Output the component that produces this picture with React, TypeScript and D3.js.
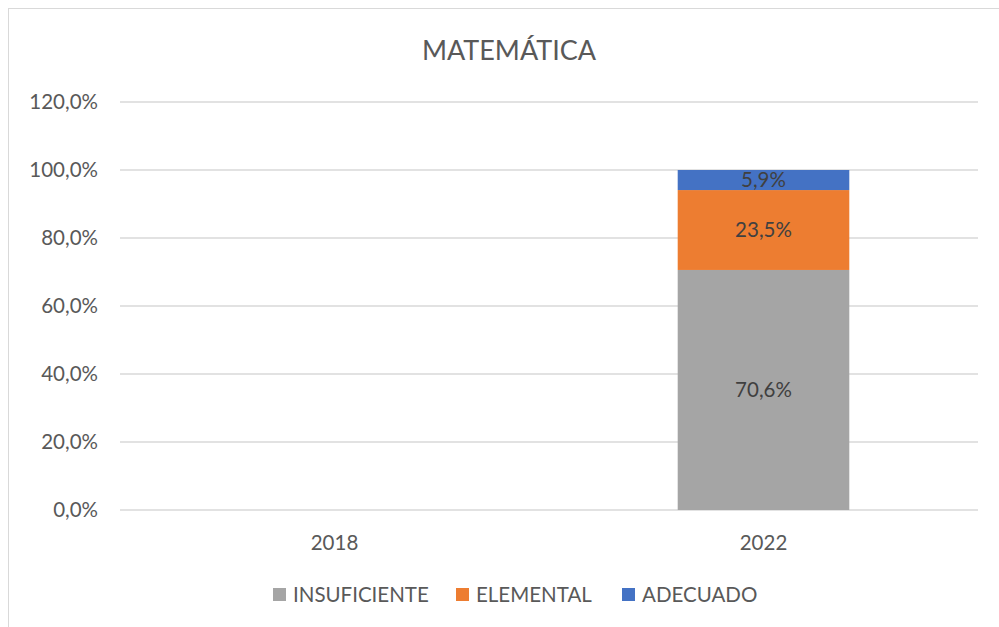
import React from "react";
import * as d3 from "d3";

const categories = ["2018", "2022"];
const seriesNames = ["INSUFICIENTE", "ELEMENTAL", "ADECUADO"];
const seriesColors = ["#A5A5A5", "#ED7D31", "#4472C4"];
// values in percent, per category (null = no data)
const insuficiente = [null, 70.6];
const elemental = [null, 23.5];
const adecuado = [null, 5.9];
const yTicks = [0, 20, 40, 60, 80, 100, 120];
const title = "MATEMÁTICA";

const W = 999;
const H = 627;
const FONT = "Lato, 'Open Sans', sans-serif";
const FS = 20.5;

export default function App() {
  const plot = { left: 120, right: 978, top: 102, bottom: 510 };
  const x = d3.scaleBand<string>().domain(categories).range([plot.left, plot.right]).paddingInner(0.6).paddingOuter(0.3);
  const y = d3.scaleLinear().domain([0, 120]).range([plot.bottom, plot.top]);
  const series = [insuficiente, elemental, adecuado];
  const fmt = (v: number) => v.toFixed(1).replace(".", ",") + "%";

  const bars: any[] = [];
  categories.forEach((c, ci) => {
    let acc = 0;
    series.forEach((s, si) => {
      const v = s[ci];
      if (v == null) return;
      const y0 = y(acc);
      const y1 = y(acc + v);
      acc += v;
      bars.push({ key: c + si, x: x(c)!, w: x.bandwidth(), y0, y1, color: seriesColors[si], label: fmt(v) });
    });
  });

  const legendItems = [
    { name: seriesNames[0], x: 273 },
    { name: seriesNames[1], x: 456 },
    { name: seriesNames[2], x: 622 },
  ];

  return (
    <svg width={W} height={H} style={{ position: "absolute", left: 0, top: 0 }}>
      <rect x={0} y={0} width={W} height={H} fill="#fff" />
      <rect x={8.5} y={8.5} width={W + 10} height={H + 10} fill="#fff" stroke="#D9D9D9" strokeWidth={1} />
      <text x={509} y={60} textAnchor="middle" fontFamily={FONT} fontSize={27} fill="#595959">{title}</text>
      {yTicks.map((t) => (
        <g key={t}>
          <line x1={plot.left} x2={plot.right} y1={y(t)} y2={y(t)} stroke="#D9D9D9" strokeWidth={1.5} />
          <text x={98} y={y(t)} dy="0.35em" textAnchor="end" fontFamily={FONT} fontSize={FS} fill="#595959">{fmt(t)}</text>
        </g>
      ))}
      {bars.map((b) => (
        <g key={b.key}>
          <rect x={b.x} y={b.y1} width={b.w} height={b.y0 - b.y1} fill={b.color} />
          <text x={b.x + b.w / 2} y={(b.y0 + b.y1) / 2} dy="0.35em" textAnchor="middle" fontFamily={FONT} fontSize={FS} fill="#404040">{b.label}</text>
        </g>
      ))}
      {categories.map((c) => (
        <text key={c} x={x(c)! + x.bandwidth() / 2} y={543} dy="0.35em" textAnchor="middle" fontFamily={FONT} fontSize={FS} fill="#595959">{c}</text>
      ))}
      {legendItems.map((l, i) => (
        <g key={l.name}>
          <rect x={l.x} y={588} width={13} height={13} fill={seriesColors[i]} />
          <text x={l.x + 20} y={595} dy="0.35em" fontFamily={FONT} fontSize={FS} fill="#595959">{l.name}</text>
        </g>
      ))}
    </svg>
  );
}
